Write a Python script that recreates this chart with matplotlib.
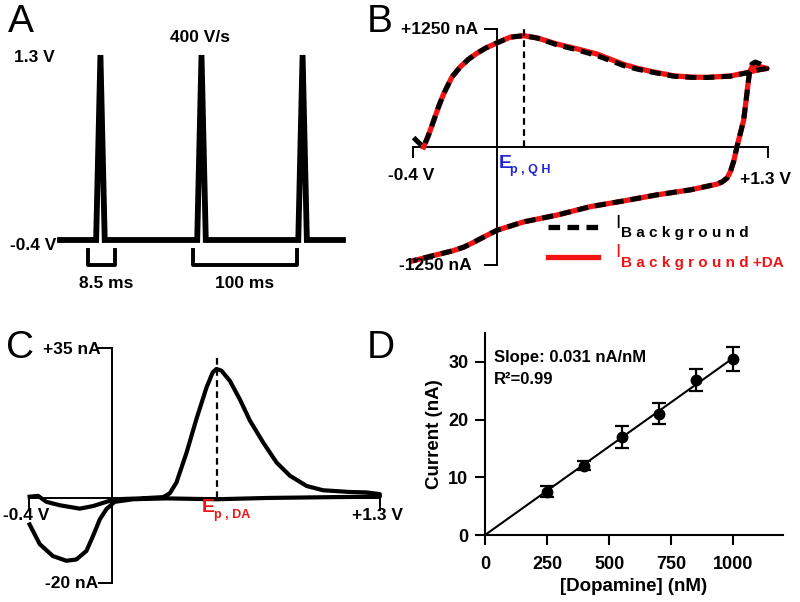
import numpy as np
import matplotlib.pyplot as plt

plt.rcParams['font.family'] = ['Liberation Sans', 'DejaVu Sans']

# Panel A: waveform
pulse_starts = [35.75, 135.75, 235.75]   # ms
pulse_width = 8.5                         # ms
v_hold = -0.4
v_switch = 1.3
wave_end = 280

# Panel B: background CV (V, nA)
bg_v = [-0.397, -0.373, -0.349, -0.325, -0.301, -0.277, -0.253, -0.213, -0.173, -0.134, -0.094,
        -0.050, -0.001, 0.066, 0.130, 0.194, 0.290, 0.385, 0.481, 0.545, 0.609, 0.673, 0.737,
        0.848, 0.930, 1.008, 1.120, 1.199, 1.247, 1.295, 1.280, 1.263, 1.239, 1.223, 1.212,
        1.205, 1.199, 1.191, 1.183, 1.167, 1.151, 1.136, 1.120, 1.104, 1.080, 1.056, 0.928,
        0.768, 0.609, 0.449, 0.290, 0.130, 0.002, -0.062, -0.110, -0.157, -0.210, -0.269,
        -0.320, -0.365, -0.400]
bg_i = [100, 46, 0, 130, 279, 430, 564, 743, 850, 930, 993, 1050, 1100, 1164, 1179, 1154,
        1082, 1029, 968, 915, 862, 825, 796, 750, 738, 736, 750, 786, 814, 832, 855, 880,
        900, 880, 800, 680, 564, 420, 279, 140, 0, -150, -260, -329, -370, -393, -454,
        -507, -571, -632, -721, -793, -882, -954, -1010, -1061, -1100, -1132, -1160,
        -1186, -1205]

# Panel B: background + dopamine CV
da_v = [-0.349, -0.325, -0.301, -0.277, -0.253, -0.213, -0.173, -0.134, -0.094, -0.050,
        -0.001, 0.066, 0.130, 0.194, 0.290, 0.385, 0.481, 0.545, 0.609, 0.673, 0.737, 0.848,
        0.930, 1.008, 1.120, 1.199, 1.247, 1.295, 1.263, 1.239, 1.223, 1.212, 1.205, 1.199,
        1.191, 1.183, 1.167, 1.151, 1.136, 1.120, 1.104, 1.080, 1.056, 0.928, 0.768, 0.609,
        0.449, 0.290, 0.130, 0.002, -0.062, -0.110, -0.157, -0.210, -0.269, -0.320, -0.365,
        -0.400]
da_i = [0, 130, 279, 430, 564, 743, 850, 930, 993, 1050, 1100, 1164, 1179, 1156, 1090,
        1040, 985, 930, 875, 835, 802, 754, 740, 738, 752, 788, 815, 832, 850, 860, 850,
        790, 680, 564, 420, 279, 140, 0, -150, -260, -329, -370, -393, -454, -507, -571,
        -632, -721, -793, -882, -954, -1010, -1061, -1100, -1132, -1160, -1186, -1205]
ep_qh = 0.130

# Panel C: background-subtracted CV (V, nA)
cv_v = [-0.397, -0.356, -0.316, -0.251, -0.154, -0.090, -0.025, 0.015, 0.137, 0.250,
        0.282, 0.314, 0.363, 0.411, 0.460, 0.490, 0.508, 0.532, 0.573, 0.621, 0.670,
        0.734, 0.799, 0.864, 0.945, 1.025, 1.155, 1.235, 1.299,
        1.299, 1.073, 0.750, 0.508, 0.266, 0.104, 0.015, -0.025, -0.057, -0.090, -0.122,
        -0.171, -0.219, -0.284, -0.348, -0.397]
cv_i = [0.2, 0.4, -1.0, -1.8, -2.6, -2.0, -1.0, -0.4, -0.2, 0.1,
        1.0, 3.5, 10.5, 18.4, 25.8, 29.3, 30.1, 29.7, 27.3, 23.0, 18.0,
        12.9, 8.2, 5.1, 2.7, 1.7, 1.3, 1.2, 0.8,
        0.2, 0.1, -0.1, -0.4, -0.2, -0.4, -1.0, -2.7, -5.1, -9.0, -12.5,
        -14.5, -14.8, -13.7, -10.9, -6.3]
ep_da = 0.511

# Panel D: calibration
conc = [250, 400, 550, 700, 850, 1000]
current = [7.5, 12.0, 17.0, 21.0, 26.8, 30.5]
current_err = [1.0, 0.8, 1.9, 1.8, 1.9, 2.0]

W, H = 800, 602
fig = plt.figure(figsize=(8, 6.02), dpi=100)


def fx(x):
    return x / W


def fy(y):
    return 1 - y / H


def label(x, y, s, size=12.5, ha='left', va='center', **kw):
    fig.text(fx(x), fy(y), s, fontsize=size, ha=ha, va=va, fontweight='bold', **kw)


def panel_letter(x, y, s):
    fig.text(fx(x), fy(y), s, fontsize=28, ha='left', va='center')


# ---- A ----
axA = fig.add_axes([fx(60), fy(240), 283 / W, 185 / H])
t = [0]
v = [v_hold]
for s in pulse_starts:
    t += [s, s + pulse_width / 2, s + pulse_width]
    v += [v_hold, v_switch, v_hold]
t.append(wave_end)
v.append(v_hold)
axA.plot(t, v, color='black', lw=4.2, solid_joinstyle='miter', clip_on=False)
axA.set_xlim(0, wave_end)
axA.set_ylim(v_hold, v_switch)
axA.axis('off')
# brackets
for a, b in [(28, 54), (132, 234)]:
    axA.plot([a, a, b, b], [-0.49, -0.63, -0.63, -0.49], color='black', lw=2.8, clip_on=False)

panel_letter(8, 22, 'A')
label(200, 38, '400 V/s', ha='center')
label(14, 58, '1.3 V')
label(10, 246, '-0.4 V')
label(106, 283, '8.5 ms', ha='center')
label(245, 283, '100 ms', ha='center')

# ---- B ----
axB = fig.add_axes([fx(413), fy(265), 355 / W, 236 / H])
axB.set_xlim(-0.4, 1.3)
axB.set_ylim(-1250, 1250)
axB.axis('off')
k = dict(color='black', lw=1.4, clip_on=False)
axB.plot([-0.4, 1.3], [0, 0], **k)
axB.plot([-0.4, -0.4], [0, -110], **k)
axB.plot([1.3, 1.3], [0, -110], **k)
axB.plot([0, 0], [-1250, 1250], **k)
axB.plot([-0.053, 0], [1250, 1250], **k)
axB.plot([-0.053, 0], [-1250, -1250], **k)
axB.plot(da_v, da_i, color='#f01414', lw=3.8, clip_on=False)
axB.plot(bg_v, bg_i, color='black', lw=3.6, ls=(0, (2.2, 1.4)), clip_on=False)
axB.plot([ep_qh, ep_qh], [0, 1290], color='black', lw=1.6, ls=(0, (3, 2)), clip_on=False)

panel_letter(367, 22, 'B')
label(478, 30, '+1250 nA', ha='right')
label(472, 265, '-1250 nA', ha='right')
label(411, 175, '-0.4 V', ha='center')
label(766, 180, '+1.3 V', ha='center')
blue = '#2424d8'
fig.text(fx(499), fy(164), 'E', color=blue, fontsize=14, fontweight='bold', va='center')
fig.text(fx(510), fy(170), 'p , Q H', color=blue, fontsize=9, fontweight='bold', va='center')
# legend
axB.plot([fx(548), fx(598)], [fy(227), fy(227)], transform=fig.transFigure, color='black',
         lw=3.8, ls=(0, (2.2, 1.4)), clip_on=False)
axB.plot([fx(548), fx(598)], [fy(257), fy(257)], transform=fig.transFigure, color='#f01414',
         lw=3.8, clip_on=False)
fig.text(fx(615), fy(224), 'I', fontsize=14, va='center')
fig.text(fx(621), fy(233), 'B a c k g r o u n d', fontsize=11, fontweight='bold', va='center')
fig.text(fx(615), fy(253), 'I', fontsize=14, va='center', color='#f01414')
fig.text(fx(621), fy(263), 'B a c k g r o u n d +DA', fontsize=11, fontweight='bold',
         va='center', color='#f01414')

# ---- C ----
axC = fig.add_axes([fx(29), fy(583), 351 / W, 235 / H])
axC.set_xlim(-0.4, 1.3)
axC.set_ylim(-20, 35)
axC.axis('off')
axC.plot([-0.4, 1.3], [0, 0], **k)
axC.plot([-0.4, -0.4], [0, -3.0], **k)
axC.plot([1.3, 1.3], [0, -3.0], **k)
axC.plot([0, 0], [-20, 35], **k)
axC.plot([-0.063, 0], [35, 35], **k)
axC.plot([-0.063, 0], [-20, -20], **k)
axC.plot(cv_v, cv_i, color='black', lw=3.0, clip_on=False)
axC.plot([ep_da, ep_da], [0, 33.5], color='black', lw=1.6, ls=(0, (3, 2)), clip_on=False)

panel_letter(6, 348, 'C')
label(101, 350, '+35 nA', ha='right')
label(98, 584, '-20 nA', ha='right')
label(26, 516, '-0.4 V', ha='center')
label(377, 516, '+1.3 V', ha='center')
red = '#f01414'
fig.text(fx(202), fy(508), 'E', color=red, fontsize=14, fontweight='bold', va='center')
fig.text(fx(214), fy(515), 'p , DA', color=red, fontsize=9, fontweight='bold', va='center')

# ---- D ----
axD = fig.add_axes([fx(485), fy(535), 298 / W, 202 / H])
slope = np.sum(np.array(conc) * np.array(current)) / np.sum(np.array(conc) ** 2)
xfit = np.array([0, max(conc)])
axD.plot(xfit, slope * xfit, color='black', lw=1.5, clip_on=False)
axD.errorbar(conc, current, yerr=current_err, fmt='o', color='black', ms=7.5,
             capsize=5, elinewidth=1.6, capthick=1.6)
axD.set_xlim(0, 1200)
axD.set_ylim(0, 35)
axD.set_xticks([0, 250, 500, 750, 1000])
axD.set_yticks([0, 10, 20, 30])
for sp in ['top', 'right']:
    axD.spines[sp].set_visible(False)
for sp in ['left', 'bottom']:
    axD.spines[sp].set_linewidth(1.5)
axD.tick_params(width=1.5, length=7, pad=5, labelsize=13)
axD.tick_params(axis='x', pad=8)
for lab in axD.get_xticklabels() + axD.get_yticklabels():
    lab.set_fontweight('bold')
axD.set_xlabel('[Dopamine] (nM)', fontsize=13.5, fontweight='bold', labelpad=4)
axD.set_ylabel('Current (nA)', fontsize=13.5, fontweight='bold', labelpad=4)
axD.text(0.03, 0.88, 'Slope: 0.031 nA/nM', transform=axD.transAxes, fontsize=12,
         fontweight='bold', va='center')
axD.text(0.03, 0.77, 'R²=0.99', transform=axD.transAxes, fontsize=12,
         fontweight='bold', va='center')
panel_letter(367, 348, 'D')

fig.savefig('out.png', dpi=100)
